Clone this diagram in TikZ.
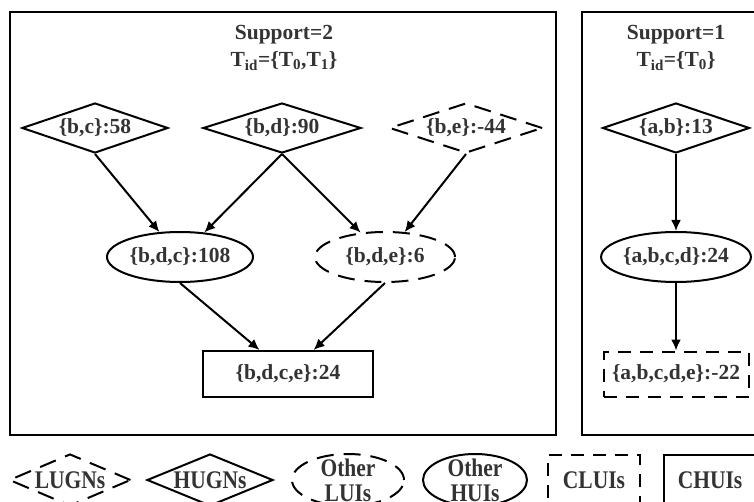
\documentclass[tikz,border=0pt]{standalone}
\usepackage{fontspec}
\usepackage{graphicx}
\setmainfont{Liberation Serif}
\usetikzlibrary{shapes.geometric,arrows.meta}
\definecolor{txt}{HTML}{333333}
% legend words are set a little taller than wide
\newcommand{\tallword}[1]{\scalebox{1}[1.18]{#1}}
\tikzset{
  lbl/.style={font=\fontsize{21.5}{25}\selectfont\bfseries, text=txt, inner sep=0pt, align=center},
  shp/.style={lbl, draw=black, line width=2pt},
  dsh/.style={dash pattern=on 17pt off 10pt},
  rdsh/.style={dash pattern=on 13pt off 9pt},
  dia/.style={shp, diamond, aspect=3, minimum width=#1, minimum height=50pt},
  ell/.style={shp, ellipse, minimum width=#1, minimum height=50pt},
  box/.style={shp, rectangle, minimum width=#1, minimum height=46pt},
  frame/.style={draw=black, line width=2.4pt},
  arr/.style={draw=black, line width=2pt, -{Latex[length=11pt,width=10pt]}},
}
\begin{document}
\begin{tikzpicture}[x=1pt, y=-1pt]
\useasboundingbox (0,0) rectangle (754,502);
\clip (0,0) rectangle (754,502);

% panels
\draw[frame] (10,12) rectangle (556,435);
\draw[frame] (582,12) rectangle (770,435);

% panel with support 2
\node[lbl] (s2) at (284,35) {Support=2};
\node[lbl] (t2) at (284,61) {T\textsubscript{id}=\{T\textsubscript{0},T\textsubscript{1}\}};
\node[dia=146pt] (bc) at (95,128) {\{b,c\}:58};
\node[dia=158pt] (bd) at (282,128) {\{b,d\}:90};
\node[dia=153pt, dsh] (be) at (466,128) {\{b,e\}:-44};
\node[ell=146pt] (bdc) at (180,257) {\{b,d,c\}:108};
\node[ell=140pt, dsh] (bde) at (385,257) {\{b,d,e\}:6};
\node[box=170pt] (bdce) at (288,374) {\{b,d,c,e\}:24};

\draw[arr] (bc.south) -- (bdc);
\draw[arr] (bd.south) -- (bdc);
\draw[arr] (bd.south) -- (bde);
\draw[arr] (be.south) -- (bde);
\draw[arr] (bdc.south) -- (bdce);
\draw[arr] (bde.south) -- (bdce);

% panel with support 1
\node[lbl] (s1) at (676,35) {Support=1};
\node[lbl] (t1) at (676,61) {T\textsubscript{id}=\{T\textsubscript{0}\}};
\node[dia=147pt] (ab) at (676,128) {\{a,b\}:13};
\node[ell=147pt] (abcd) at (676,257) {\{a,b,c,d\}:24};
\node[box=145pt, minimum height=45pt, rdsh] (abcde) at (676,374) {\{a,b,c,d,e\}:-22};

\draw[arr] (ab.south) -- (abcd);
\draw[arr] (abcd.south) -- (abcde);

% legend
\node[dia=120pt, minimum height=52pt, dsh] (lugn) at (70,480) {\tallword{LUGNs}};
\node[dia=126pt, minimum height=52pt] (hugn) at (210,480) {\tallword{HUGNs}};
\node[ell=112pt, minimum height=52pt, inner ysep=-10pt, dsh] (olui) at (348,480) {\tallword{Other}\\\tallword{LUIs}};
\node[ell=104pt, minimum height=52pt, inner ysep=-10pt] (ohui) at (475,480) {\tallword{Other}\\\tallword{HUIs}};
\node[box=92pt, minimum height=50pt, rdsh] (clui) at (594,480) {\tallword{CLUIs}};
\node[box=92pt, minimum height=50pt] (chui) at (710,480) {\tallword{CHUIs}};
\end{tikzpicture}
\end{document}
